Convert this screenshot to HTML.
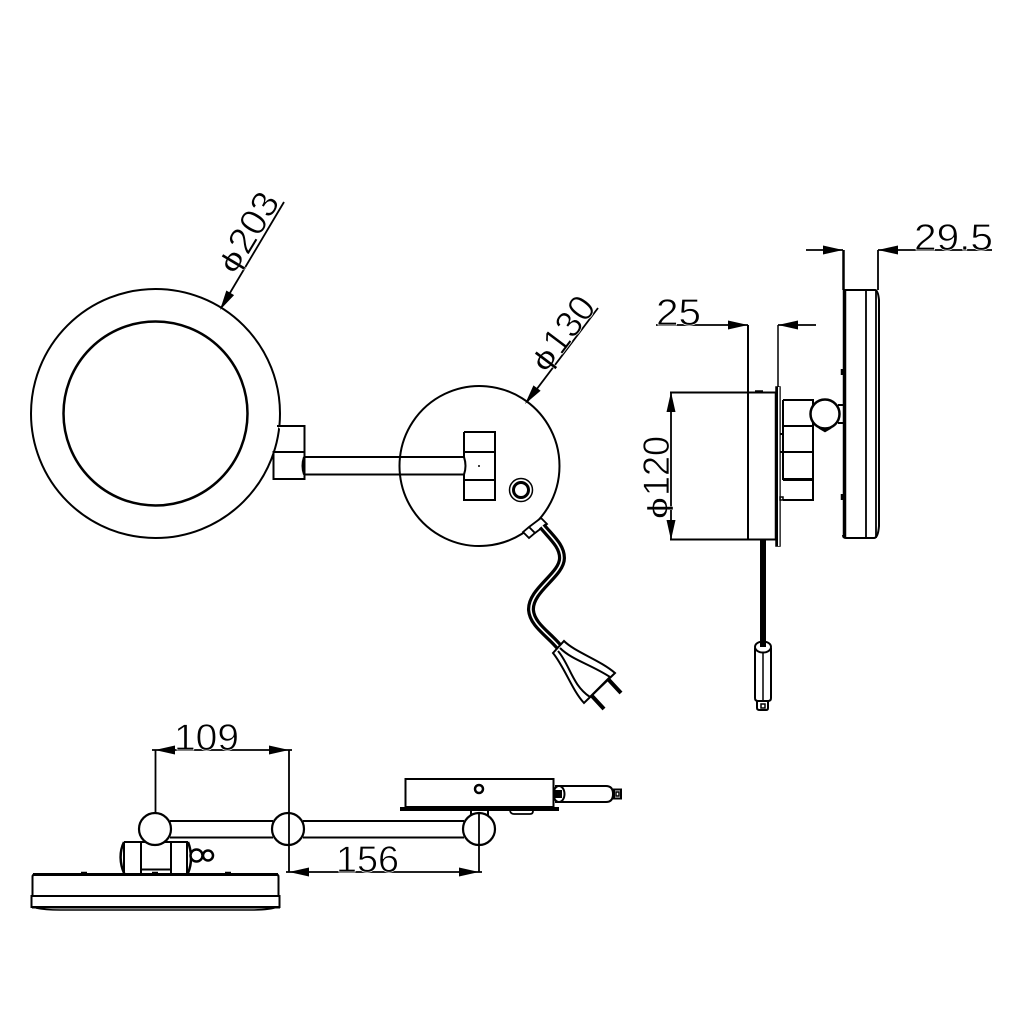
<!DOCTYPE html>
<html><head><meta charset="utf-8"><style>
html,body{margin:0;padding:0;background:#fff}
svg{display:block}
text{font-family:"Liberation Sans",sans-serif;font-size:37px;fill:#000;stroke:#fff;stroke-width:.7px}
text.p{font-size:28px;stroke-width:.3px}
</style></head><body>
<svg width="1024" height="1024" viewBox="0 0 1024 1024" xmlns="http://www.w3.org/2000/svg">
<rect width="1024" height="1024" fill="#fff"/>
<defs><path id="a" d="M0 0L-20 -4.500L-20 4.500Z" fill="#000" stroke="none"/></defs>
<g fill="none" stroke="#000" stroke-width="2">
<!-- mirror front -->
<circle cx="155.500" cy="413.500" r="124.500"/>
<circle cx="155.500" cy="413.500" r="92" stroke-width="2.500"/>
<!-- wall plate -->
<path d="M400 457A80 80 0 1 1 400 475A80 80 0 0 1 400 457"/>
<path d="M277 426H304.500V479H273.500V452H304.500" fill="#fff"/>
<path d="M304 457H464M304 474.500H464M304 457Q301 466 304 474.500M464 457Q467 466 464 474.500"/>
<path d="M464 432H495V500H464V480H495M464 452H495M464 432V457M464 474.500V500"/>
<circle cx="479" cy="466" r="1" fill="#000" stroke="none"/>
<circle cx="521" cy="490" r="11.500" stroke-width="1.500"/>
<circle cx="521" cy="490" r="7.500" stroke-width="3"/>
<!-- connector -->
<path d="M523 532L529 538L535 533L529 527ZM529 527L535 533L547 524L541 518Z" fill="#fff" stroke-width="1.800"/>
<!-- cable -->
<path d="M542 526C552 538 562 546 562 558C562 575 530 590 531 610C532 625 550 635 560 648" stroke-width="8"/>
<path d="M542 526C552 538 562 546 562 558C562 575 530 590 531 610C532 625 550 635 560 648" stroke="#fff" stroke-width="1.600"/>
<!-- plug -->
<path d="M553 653L564 641C575 652 600 660 615 673L584 703C572 690 565 668 553 653Z" fill="#fff"/>
<path d="M560 648C572 660 590 664 610 677M558 651C570 665 572 685 590 697M590 697L610 677"/>
<path d="M608 679L621 693M592 696L604 709" stroke-width="4"/>
<!-- side view -->
<path d="M670 392.500H776M670 539.500H776M748 325V539.500"/>
<path d="M776 392V540" stroke-width="2.500"/>
<path d="M778 325V387" stroke-width="1.500"/>
<rect x="776" y="387" width="4" height="159" stroke-width="1.500" fill="#000"/>
<rect x="778" y="387" width="1.500" height="159" fill="#fff" stroke="none"/>
<path d="M755 391.500H763" stroke-width="2.500"/>
<path d="M783 400H813V500H783M783 426H813M783 480V400M813 426V452M783 452H813"/>
<path d="M783 479.500H813" stroke-width="3"/>
<path d="M780 434H783M780 452H783M783 452V480"/>
<rect x="780" y="497" width="3" height="3" stroke-width="1.500"/>
<path d="M838 405H843M838 423H843"/>
<path d="M819 428L825 431.500L831 428" fill="#000" stroke-width="1.500"/>
<circle cx="825" cy="414" r="14.500" fill="#fff" stroke-width="2.500"/>
<path d="M844.500 290V537" stroke-width="3.500"/>
<path d="M843 290H875Q878 290 879 300V526Q878 538 874 538H846Q843 538 843 535" stroke-width="2"/>
<path d="M866 290V538M876 290V538" stroke-width="1.800"/>
<path d="M842 369V375M842 494V500" stroke-width="2.500"/>
<path d="M763 540V647" stroke-width="6"/>
<path d="M755 648V698Q755 701 758 701H768Q771 701 771 698V648" stroke-width="2"/>
<ellipse cx="763" cy="647" rx="8" ry="5.500" stroke-width="2"/>
<path d="M763 652V701" stroke-width="1.500"/>
<path d="M757 701V708Q757 710 760 710H766Q768 710 768 708V701" stroke-width="2"/>
<rect x="761" y="704" width="4" height="4" stroke-width="1.500"/>
<!-- bottom view: wall box -->
<rect x="405.500" y="779" width="148" height="28"/>
<rect x="400" y="807" width="159" height="4" fill="#000" stroke="none"/>
<circle cx="479" cy="789" r="4" stroke-width="2.500"/>
<path d="M471 810V816M488 810V816"/>
<path d="M510 811Q511 814 514 814H530Q533 814 533 811" stroke-width="1.800"/>
<path d="M555 786H606Q613 786 613 794Q613 802 606 802H555" stroke-width="2"/>
<ellipse cx="559" cy="794" rx="5.500" ry="8" stroke-width="2" fill="#fff"/>
<rect x="554" y="790" width="8" height="8" fill="#000" stroke="none"/>
<rect x="614" y="789.500" width="7" height="9" stroke-width="2"/>
<rect x="616" y="792" width="3" height="4" stroke-width="1.500"/>
<!-- bottom view: arm -->
<path d="M170 821H273M170 837.500H273M303 821H464M303 837.500H464"/>
<path d="M124 842H188M141 842V873M171 842V873M141 869.500H171"/>
<path d="M124 842C119 852 120 864 124 873L123 873M188 842C192 852 192 864 188 873" stroke-width="2.500"/>
<path d="M124 842V873M187 842V873"/>
<circle cx="155" cy="829" r="16" fill="#fff" stroke-width="2.200"/>
<circle cx="288" cy="829" r="16" fill="#fff" stroke-width="2.200"/>
<circle cx="479" cy="829" r="16" fill="#fff" stroke-width="2.200"/>
<circle cx="208" cy="855.500" r="5" stroke-width="2.500"/>
<circle cx="196.500" cy="855.500" r="6" fill="#fff" stroke-width="2.500"/>
<!-- bottom view: mirror -->
<path d="M32.500 896V877Q32.500 874 36 874H275Q278.500 874 278.500 877V896"/>
<path d="M33 874.500H278" stroke-width="3"/>
<path d="M31.500 896H279.500V907H31.500Z"/>
<path d="M32 907.500H280" stroke-width="2"/>
<path d="M36 908Q45 910 60 910H250Q270 910 277 907" stroke-width="1.500"/>
<path d="M81 873H87M152 873H158M225 873H231" stroke-width="2.500"/>
<!-- dimension lines -->
<g stroke-width="1.800">
<path d="M284 202L221 308"/>
<path d="M598 308L527 402"/>
<path d="M806 250H843M878 250H992"/>
<path d="M843.500 250V290" stroke-width="2.500"/>
<path d="M878 250V290"/>
<path d="M656 325H748M778 325H816"/>
<path d="M671 392V540"/>
<path d="M152 750H292M155.500 750V814M289 750V872"/>
<path d="M286 872H482M479 812V872"/>
</g>
</g>
<use href="#a" transform="translate(220 310) rotate(120.700)"/>
<use href="#a" transform="translate(525 404) rotate(127)"/>
<use href="#a" transform="translate(843 250)"/>
<use href="#a" transform="translate(878 250) rotate(180)"/>
<use href="#a" transform="translate(748 325)"/>
<use href="#a" transform="translate(778 325) rotate(180)"/>
<use href="#a" transform="translate(671 392) rotate(-90)"/>
<use href="#a" transform="translate(671 540) rotate(90)"/>
<use href="#a" transform="translate(155 750) rotate(180)"/>
<use href="#a" transform="translate(289 750)"/>
<use href="#a" transform="translate(289 872) rotate(180)"/>
<use href="#a" transform="translate(479 872)"/>
<text x="174" y="750" textLength="65" lengthAdjust="spacingAndGlyphs">109</text>
<text x="336" y="872" textLength="63" lengthAdjust="spacingAndGlyphs">156</text>
<text x="656" y="325" textLength="45" lengthAdjust="spacingAndGlyphs">25</text>
<text x="914" y="250" textLength="79" lengthAdjust="spacingAndGlyphs">29.5</text>
<g transform="translate(669 522) rotate(-90)"><text class="p" transform="translate(3 -2) scale(1.400 1)">ϕ</text><text x="26" y="0" textLength="60" lengthAdjust="spacingAndGlyphs">120</text></g>
<g transform="translate(239.500 270) rotate(-59)"><text class="p" transform="translate(-7 -2) scale(1.400 1)">ϕ</text><text x="16" y="0" textLength="64" lengthAdjust="spacingAndGlyphs">203</text></g>
<g transform="translate(551 369) rotate(-53)"><text class="p" transform="translate(-7 -2) scale(1.400 1)">ϕ</text><text x="16" y="0" textLength="61" lengthAdjust="spacingAndGlyphs">130</text></g>
</svg>
</body></html>
